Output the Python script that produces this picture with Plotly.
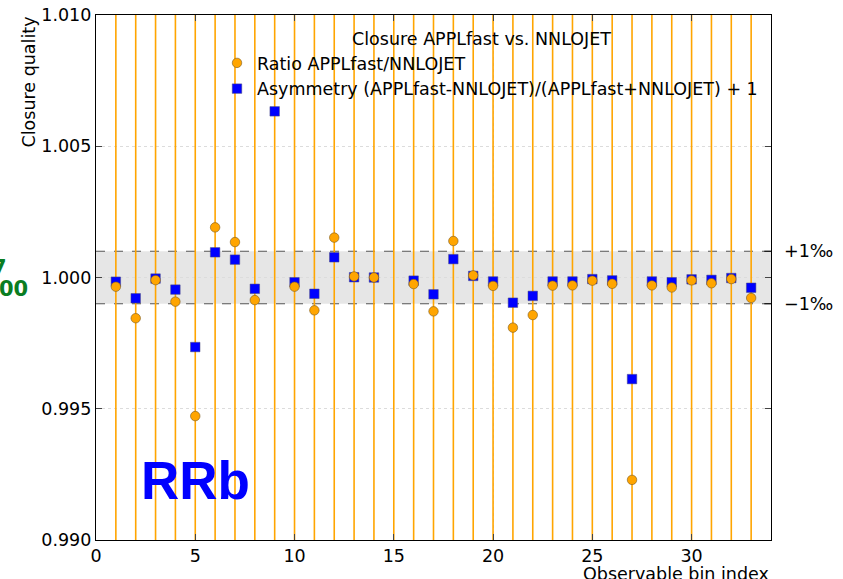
import plotly.graph_objects as go

# ---- data ----
bins = list(range(1, 34))
ratio = [0.99965, 0.99845, 0.99990, 0.99908, 0.99472, 1.00191, 1.00135, 0.99914,
         1.01270, 0.99965, 0.99875, 1.00152, 1.00004, 1.00000, 0.97500, 0.99975,
         0.99871, 1.00139, 1.00008, 0.99968, 0.99809, 0.99857, 0.99969, 0.99970,
         0.99988, 0.99976, 0.99229, 0.99970, 0.99962, 0.99989, 0.99978, 0.99994,
         0.99922]
asym = [0.99984, 0.99921, 0.99996, 0.99954, 0.99735, 1.00096, 1.00068, 0.99957,
        1.00633, 0.99982, 0.99938, 1.00077, 1.00001, 1.00000, 0.98750, 0.99988,
        0.99936, 1.00070, 1.00006, 0.99985, 0.99904, 0.99930, 0.99985, 0.99985,
        0.99994, 0.99989, 0.99613, 0.99985, 0.99982, 0.99993, 0.99991, 0.99998,
        0.99961]
ratio_err = [0.05] * 33
asym_err = [0.00005] * 33
band = [0.999, 1.001]
xticks = [0, 5, 10, 15, 20, 25, 30]
yticks = [0.990, 0.995, 1.000, 1.005, 1.010]
ytick_labels = ["0.990", "0.995", "1.000", "1.005", "1.010"]

FONT = "DejaVu Sans"
FS = 17.5
ORANGE = "#FFA500"

fig = go.Figure()

# orange error lines (below everything)
fig.add_trace(go.Scatter(
    x=bins, y=ratio, mode="markers", showlegend=False, hoverinfo="skip",
    marker=dict(size=1, opacity=0),
    error_y=dict(type="data", array=ratio_err, color=ORANGE, thickness=1.6, width=0),
))
# asymmetry
fig.add_trace(go.Scatter(
    x=bins, y=asym, mode="markers", name="Asymmetry (APPLfast-NNLOJET)/(APPLfast+NNLOJET) + 1",
    legendrank=2, legendgroup="b",
    marker=dict(symbol="square", size=9.5, color="#0000FF", line=dict(color="#4a4a7a", width=0.5)),
    error_y=dict(type="data", array=asym_err, color="#0000FF", thickness=1.2, width=2),
))
# ratio markers
fig.add_trace(go.Scatter(
    x=bins, y=ratio, mode="markers", name="Ratio APPLfast/NNLOJET",
    legendrank=1, legendgroup="a",
    marker=dict(symbol="circle", size=9.5, color=ORANGE, line=dict(color="#7a5a20", width=0.6)),
))

shapes = [
    dict(type="rect", xref="paper", x0=0, x1=1, yref="y", y0=band[0], y1=band[1],
         fillcolor="#e6e6e6", line=dict(width=0), layer="below"),
]
for b in band:
    shapes.append(dict(type="line", xref="paper", x0=0, x1=1, yref="y", y0=b, y1=b,
                       line=dict(color="#555555", width=1.2, dash="dash"), layer="below"))
    shapes.append(dict(type="line", xref="paper", x0=0.99, x1=1, yref="y", y0=b, y1=b,
                       line=dict(color="black", width=1)))

annotations = [
    dict(text="Closure APPLfast vs. NNLOJET", xref="paper", yref="paper",
         x=(481 - 96) / 675, y=(540 - 39) / 525, xanchor="center", yanchor="middle", showarrow=False,
         font=dict(family=FONT, size=FS, color="black")),
    dict(text="RRb", xref="paper", yref="paper", x=(139 - 96) / 675, y=(540 - 480) / 525,
         xanchor="left", yanchor="middle", showarrow=False,
         font=dict(family="Liberation Sans", size=53, color="#0000FF", weight="bold")),
    dict(text="+1‰", xref="paper", yref="y", x=(782 - 96) / 675, y=band[1],
         xanchor="left", yanchor="middle", showarrow=False,
         font=dict(family=FONT, size=FS, color="black")),
    dict(text="−1‰", xref="paper", yref="y", x=(782 - 96) / 675, y=band[0],
         xanchor="left", yanchor="middle", showarrow=False,
         font=dict(family=FONT, size=FS, color="black")),
    dict(text="Closure quality", xref="paper", yref="paper", x=(28 - 96) / 675, y=1,
         xanchor="center", yanchor="top", textangle=-90, showarrow=False,
         font=dict(family=FONT, size=FS, color="black")),
    dict(text="Observable bin index", xref="paper", yref="paper", x=1, y=(540 - 562) / 525,
         xanchor="right", yanchor="top", showarrow=False,
         font=dict(family=FONT, size=FS, color="black")),
    dict(text="<b>00</b>", xref="paper", yref="paper", x=(30 - 96) / 675, y=(540 - 289) / 525,
         xanchor="right", yanchor="middle", showarrow=False,
         font=dict(family=FONT, size=21, color="#0a7d22")),
    dict(text="<b>7</b>", xref="paper", yref="paper", x=(9 - 96) / 675, y=(540 - 268) / 525,
         xanchor="right", yanchor="middle", showarrow=False,
         font=dict(family=FONT, size=21, color="#0a7d22")),
]

fig.update_layout(
    width=843, height=579,
    margin=dict(l=96, r=72, t=15, b=39, autoexpand=False),
    plot_bgcolor="white", paper_bgcolor="white",
    font=dict(family=FONT, size=FS, color="black"),
    shapes=shapes, annotations=annotations,
    legend=dict(x=(217 - 96) / 675, y=(540 - 45) / 525, xanchor="left", yanchor="top",
                bgcolor="rgba(0,0,0,0)", font=dict(family=FONT, size=FS),
                tracegroupgap=0, itemwidth=30),
)
fig.update_xaxes(range=[0, 34], tickvals=xticks, ticks="inside", ticklen=6,
                 showline=True, linecolor="black", linewidth=1.2, mirror="ticks",
                 showgrid=True, gridcolor="#dcdcdc", griddash="dot", zeroline=False,
                 automargin=False, tickfont=dict(family=FONT, size=FS))
fig.update_yaxes(range=[0.990, 1.010], tickvals=yticks, ticktext=ytick_labels,
                 ticks="inside", ticklen=6,
                 showline=True, linecolor="black", linewidth=1.2, mirror="ticks",
                 showgrid=True, gridcolor="#dcdcdc", griddash="dot", zeroline=False,
                 automargin=False, tickfont=dict(family=FONT, size=FS))

fig.write_html("out.html", config={"displayModeBar": False},
               post_script="document.body.style.margin='0';")
